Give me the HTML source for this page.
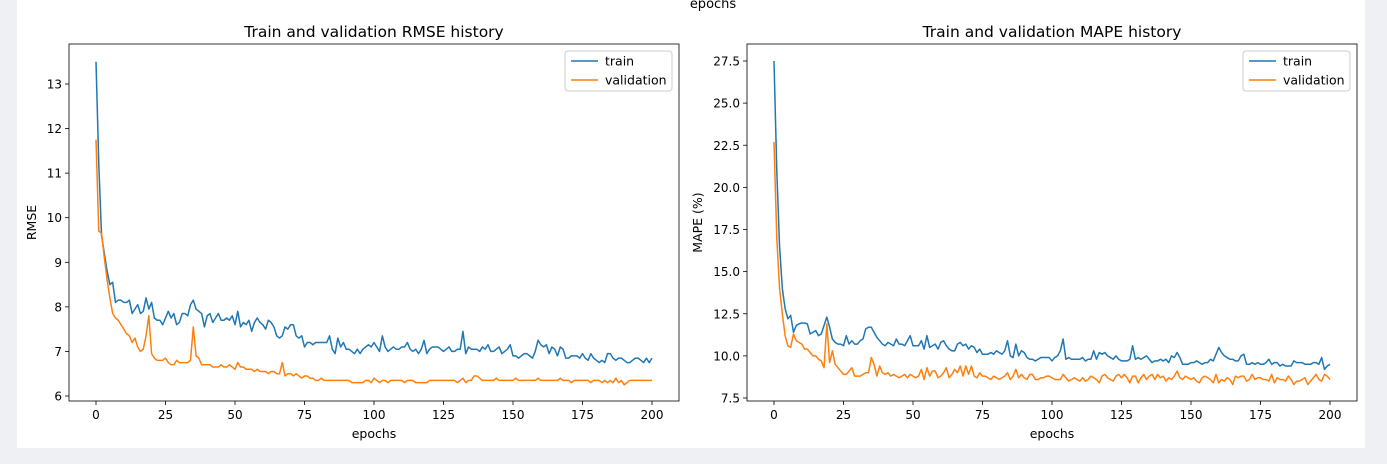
<!DOCTYPE html>
<html><head><meta charset="utf-8"><style>
body{margin:0;background:#eef0f4;width:1387px;height:464px;overflow:hidden}
svg{display:block;font-family:"DejaVu Sans","Liberation Sans",sans-serif}
</style></head><body>
<svg id="fig" width="1387" height="464">
<rect x="0" y="0" width="1387" height="464" fill="#eef0f4"/>
<rect x="17" y="0" width="1348" height="448" fill="#fff"/>
<text x="713" y="8" font-size="13" text-anchor="middle">epochs</text>
</svg>
<script>
const epochsCount = 201;
const rmseTrain = [13.5,11.2,9.6,9.2,8.8,8.5,8.55,8.1,8.15,8.15,
8.1,8.1,8.15,7.85,7.95,8.05,7.85,7.9,8.2,7.95,
8.1,7.75,7.7,7.7,7.6,7.75,7.9,7.75,7.85,7.6,
7.65,7.85,7.85,7.8,8.05,8.15,7.95,7.9,7.85,7.55,
7.8,7.85,7.65,7.75,7.85,7.7,7.7,7.75,7.7,7.8,
7.6,7.9,7.55,7.65,7.6,7.7,7.45,7.65,7.75,7.65,
7.6,7.5,7.7,7.65,7.55,7.35,7.3,7.35,7.55,7.5,
7.6,7.6,7.35,7.3,7.35,7.1,7.2,7.2,7.15,7.2,
7.2,7.2,7.2,7.2,7.35,7.05,6.95,7.3,7.1,7.2,
7.05,7.05,7.0,6.95,7.05,6.95,7.05,7.1,7.15,7.1,
7.2,7.1,7.0,7.35,7.1,7.0,7.05,7.1,7.05,7.05,
7.1,7.1,7.2,7.05,7.0,7.05,6.95,7.05,7.25,6.95,
7.05,7.1,7.1,7.1,7.05,7.0,7.05,7.1,7.0,7.0,
7.05,7.05,7.45,6.95,7.1,7.05,7.05,7.05,7.0,7.1,
7.05,7.15,7.0,7.0,7.05,7.1,6.95,7.0,7.05,7.15,
6.9,6.9,6.85,6.9,6.95,6.95,6.9,6.85,7.0,7.25,
7.15,7.1,7.15,6.95,7.1,7.05,6.9,7.1,7.05,6.85,
6.85,6.9,6.9,6.9,6.85,6.95,6.85,6.8,6.95,6.85,
6.8,6.75,6.8,6.75,6.95,6.95,6.85,6.8,6.85,6.85,
6.8,6.75,6.75,6.8,6.85,6.85,6.8,6.75,6.85,6.75,6.85];
const rmseVal = [11.75,9.7,9.65,9.1,8.6,8.2,7.85,7.75,7.7,7.6,
7.5,7.4,7.35,7.2,7.3,7.1,7.0,7.05,7.35,7.8,
6.95,6.85,6.8,6.8,6.8,6.85,6.75,6.7,6.7,6.8,
6.75,6.75,6.75,6.75,6.8,7.55,6.9,6.85,6.7,6.7,
6.7,6.7,6.65,6.65,6.65,6.7,6.65,6.65,6.7,6.65,
6.6,6.75,6.65,6.65,6.6,6.6,6.6,6.55,6.6,6.55,
6.55,6.55,6.5,6.55,6.55,6.5,6.5,6.75,6.45,6.5,
6.5,6.45,6.5,6.45,6.4,6.45,6.45,6.4,6.4,6.35,
6.35,6.4,6.35,6.35,6.35,6.35,6.35,6.35,6.35,6.35,
6.35,6.35,6.3,6.3,6.3,6.3,6.3,6.35,6.35,6.3,
6.4,6.35,6.3,6.35,6.35,6.3,6.35,6.35,6.35,6.35,
6.35,6.3,6.35,6.35,6.35,6.3,6.3,6.3,6.3,6.3,
6.35,6.35,6.35,6.35,6.35,6.35,6.35,6.35,6.35,6.35,
6.3,6.35,6.4,6.3,6.35,6.35,6.45,6.45,6.4,6.35,
6.35,6.35,6.35,6.35,6.4,6.35,6.35,6.35,6.35,6.35,
6.35,6.4,6.35,6.35,6.35,6.35,6.35,6.35,6.35,6.4,
6.35,6.35,6.35,6.35,6.35,6.35,6.35,6.4,6.35,6.35,
6.35,6.3,6.35,6.35,6.35,6.35,6.35,6.35,6.3,6.35,
6.35,6.35,6.3,6.35,6.3,6.35,6.3,6.4,6.3,6.35,
6.25,6.3,6.35,6.35,6.35,6.35,6.35,6.35,6.35,6.35,6.35];
const mapeTrain = [27.5,21,16.5,14,12.8,12.2,12.4,11.4,11.8,11.9,
11.95,11.95,11.9,11.3,11.4,11.5,11.2,11.3,11.8,12.3,
11.7,11.0,10.8,10.7,10.7,10.6,11.2,10.7,10.9,10.7,
10.7,10.9,11.0,11.6,11.7,11.7,11.4,11.1,10.9,10.7,
10.6,10.8,10.7,10.6,11.0,10.7,10.7,10.6,10.9,11.2,
10.6,10.6,10.6,10.9,10.4,11.2,10.5,10.6,10.7,10.4,
10.8,10.9,10.6,10.4,10.3,10.3,10.7,10.8,10.6,10.7,
10.4,10.6,10.5,10.2,10.4,10.1,10.1,10.1,10.2,10.1,
10.3,10.2,10.1,10.3,10.9,10.0,9.9,10.7,10.0,10.3,
10.2,9.9,9.8,9.8,9.7,9.8,9.9,9.9,9.9,9.9,
9.7,9.9,10.0,10.3,11.0,9.8,9.9,9.8,9.8,9.8,
9.8,9.9,9.7,9.8,9.8,10.3,9.8,10.2,10.1,10.2,
10.0,9.9,9.8,10.0,9.8,9.7,9.7,9.7,9.8,10.6,
9.8,9.9,9.8,9.9,10.0,9.8,9.6,9.7,9.7,9.8,
9.7,9.8,9.6,10.0,9.9,10.2,9.9,9.5,9.5,9.5,
9.6,9.6,9.7,9.6,9.5,9.6,9.6,9.8,9.7,10.1,
10.5,10.2,10.0,9.9,9.8,9.8,9.7,9.7,10.0,10.1,
9.5,9.5,9.6,9.5,9.6,9.5,9.5,9.6,9.8,9.5,
9.6,9.6,9.4,9.5,9.4,9.4,9.4,9.7,9.6,9.6,
9.6,9.5,9.5,9.5,9.6,9.6,9.5,9.9,9.2,9.4,9.5];
const mapeVal = [22.7,17,14,12.5,11.2,10.6,10.5,11.3,10.9,10.8,
10.7,10.4,10.4,10.2,10.0,10.0,9.8,9.7,9.3,11.9,
9.6,10.3,9.5,9.3,9.1,8.9,8.9,9.1,9.3,8.8,
8.8,8.8,8.9,9.0,9.0,9.9,9.5,8.8,9.4,9.0,
8.9,9.0,8.8,8.9,8.8,8.7,8.8,8.9,8.7,8.9,
8.8,8.7,8.8,9.2,8.6,9.3,8.8,9.1,9.1,8.7,
8.8,9.0,9.3,8.7,8.9,9.2,9.0,9.4,8.8,9.4,
8.9,9.4,8.8,8.7,9.0,8.8,8.8,8.7,8.6,8.8,
8.7,8.6,8.7,8.8,9.0,8.6,8.8,9.2,8.7,8.9,
8.7,8.6,8.9,8.9,8.6,8.6,8.7,8.7,8.8,8.8,
8.7,8.6,8.6,8.6,8.9,8.7,8.5,8.6,8.7,8.6,
8.5,8.7,8.5,8.6,8.8,8.7,8.6,8.4,8.8,8.9,
8.7,8.6,8.5,8.8,8.9,8.7,8.9,8.7,8.4,8.8,
8.8,8.4,8.7,8.9,8.6,8.8,8.9,8.6,8.9,8.7,
8.8,8.5,8.7,8.6,8.8,9.1,8.7,8.6,8.8,8.7,
8.6,8.7,8.5,8.4,8.7,8.8,8.7,8.6,8.4,8.9,
8.4,8.6,8.5,8.7,8.6,8.3,8.8,8.7,8.8,8.8,
8.5,8.6,8.9,8.6,8.7,8.7,8.6,8.6,8.5,8.9,
8.4,8.7,8.6,8.6,8.5,8.8,8.6,8.3,8.5,8.5,
8.6,8.7,8.3,8.5,8.7,8.9,8.6,8.5,8.9,8.8,8.6];
const xTicks = [0,25,50,75,100,125,150,175,200];
const rmseTicks = [6,7,8,9,10,11,12,13];
const mapeTicks = [7.5,10.0,12.5,15.0,17.5,20.0,22.5,25.0,27.5];

const NS = "http://www.w3.org/2000/svg";
const svg = document.getElementById('fig');
function mk(tag, attrs, parent, txt){
  const e = document.createElementNS(NS, tag);
  for (const k in attrs) e.setAttribute(k, attrs[k]);
  if (txt !== undefined) e.textContent = txt;
  (parent||svg).appendChild(e); return e;
}
function drawChart(cfg){
  const g = mk('g', {});
  
  
  const {left,right,top,bottom,x0px,x200px,yA,yApx,yB,yBpx} = cfg;
  const xs = v => x0px + (v/200)*(x200px-x0px);
  const ys = v => yApx + (v-yA)*(yBpx-yApx)/(yB-yA);
  // ticks
  xTicks.forEach(t=>{
    const l = mk('line',{x1:xs(t),x2:xs(t),y1:bottom,y2:bottom+4,stroke:'#000','stroke-width':0.8},g);
    
    
    const tx = mk('text',{x:xs(t),y:bottom+18,'font-size':12,'text-anchor':'middle'},g,String(t));
    
    
  });
  cfg.yTicks.forEach(t=>{
    const l = mk('line',{x1:left-4,x2:left,y1:ys(t),y2:ys(t),stroke:'#000','stroke-width':0.8},g);
    
    
    const tx = mk('text',{x:left-7,y:ys(t)+4.5,'font-size':12,'text-anchor':'end'},g,cfg.fmt(t));
    
    
  });
  // series
  cfg.series.forEach(s=>{
    const d = s.data.map((v,i)=>(i?'L':'M')+xs(i).toFixed(2)+','+ys(v).toFixed(2)).join('');
    const p = mk('path',{d:d,fill:'none',stroke:s.color,'stroke-width':1.5,'stroke-linejoin':'round'},g);
    
    
  });
  const fr = mk('rect',{x:left,y:top,width:right-left,height:bottom-top,fill:'none',stroke:'#000','stroke-width':0.8},g);
  
  
  const ti = mk('text',{x:(left+right)/2,y:top-7,'font-size':15.5,'text-anchor':'middle'},g,cfg.title);
  
  
  const xl = mk('text',{x:(left+right)/2,y:bottom+37,'font-size':12.5,'text-anchor':'middle'},g,'epochs');
  
  
  const yl = mk('text',{x:0,y:0,'font-size':12.5,'text-anchor':'middle',transform:`translate(${cfg.ylx},${(top+bottom)/2}) rotate(-90)`},g,cfg.ylabel);
  
  
  // legend
  const lx = right-114, ly = top+7;
  const lg = mk('g',{},g);
  
  
  mk('rect',{x:lx,y:ly,width:107,height:40,rx:3,fill:'#fff',stroke:'#ccc','stroke-width':1},lg);
  cfg.series.forEach((s,i)=>{
    const yy = ly+10+i*19;
    const ln = mk('line',{x1:lx+6,x2:lx+33,y1:yy,y2:yy,stroke:s.color,'stroke-width':1.5},lg);
    
    
    const tt = mk('text',{x:lx+40,y:yy+4.5,'font-size':12.5},lg,s.label);
    
    
  });
}
drawChart({name:'rmse-chart',left:69,right:679,top:44,bottom:401,x0px:96,x200px:652,
  yA:6,yApx:396,yB:13,yBpx:84,yTicks:rmseTicks,fmt:t=>String(t),title:'Train and validation RMSE history',
  ylabel:'RMSE',ylx:36,series:[{name:'rmse-train-line',label:'train',color:'#1f77b4',data:rmseTrain},
  {name:'rmse-validation-line',label:'validation',color:'#ff7f0e',data:rmseVal}]});
drawChart({name:'mape-chart',left:747,right:1357,top:44,bottom:401,x0px:774,x200px:1330,
  yA:7.5,yApx:398,yB:27.5,yBpx:61,yTicks:mapeTicks,fmt:t=>t.toFixed(1),title:'Train and validation MAPE history',
  ylabel:'MAPE (%)',ylx:702,series:[{name:'mape-train-line',label:'train',color:'#1f77b4',data:mapeTrain},
  {name:'mape-validation-line',label:'validation',color:'#ff7f0e',data:mapeVal}]});
</script>
</body></html>
